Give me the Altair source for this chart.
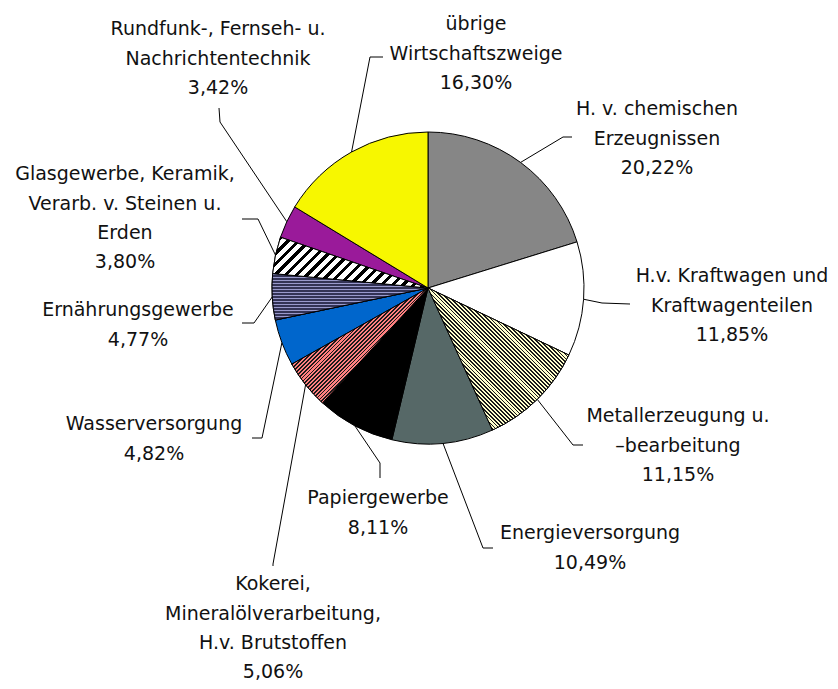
import math
import altair as alt
import pandas as pd

# ---------------- data ----------------
sectors = [
    "H. v. chemischen Erzeugnissen",
    "H.v. Kraftwagen und Kraftwagenteilen",
    "Metallerzeugung u. –bearbeitung",
    "Energieversorgung",
    "Papiergewerbe",
    "Kokerei, Mineralölverarbeitung, H.v. Brutstoffen",
    "Wasserversorgung",
    "Ernährungsgewerbe",
    "Glasgewerbe, Keramik, Verarb. v. Steinen u. Erden",
    "Rundfunk-, Fernseh- u. Nachrichtentechnik",
    "übrige Wirtschaftszweige",
]
label_lines = [
    "H. v. chemischen\nErzeugnissen",
    "H.v. Kraftwagen und\nKraftwagenteilen",
    "Metallerzeugung u.\n–bearbeitung",
    "Energieversorgung",
    "Papiergewerbe",
    "Kokerei,\nMineralölverarbeitung,\nH.v. Brutstoffen",
    "Wasserversorgung",
    "Ernährungsgewerbe",
    "Glasgewerbe, Keramik,\nVerarb. v. Steinen u.\nErden",
    "Rundfunk-, Fernseh- u.\nNachrichtentechnik",
    "übrige\nWirtschaftszweige",
]
shares = [20.22, 11.85, 11.15, 10.49, 8.11, 5.06, 4.82, 4.77, 3.80, 3.42, 16.30]

# ---------------- style / layout ----------------
fills = ["#868686", "#ffffff", "#b2b28e", "#566867", "#000000", "#c0625c",
         "#0066cc", "#7a7aa6", "#a2a2a2", "#9a1a9a", "#f7f700"]
# striped fills: sector index -> (normal angle deg, period px, [(colour, fraction), ...])
stripes = {
    2: (-45, 2.75, [("#ffffcc", 0.55), ("#1a1a1a", 0.45)]),
    5: (45, 2.75, [("#ff8080", 0.55), ("#1a1a1a", 0.45)]),
    7: (90, 3.0, [("#9999cc", 0.62), ("#333355", 0.38)]),
    8: (45, 7.5, [("#ffffff", 0.58), ("#000000", 0.42)]),
}
CX, CY, R = 420, 280, 156          # pie centre / radius (chart coords)
MARGIN = 8
FONT_SIZE = 19
LINE_H = 29.3
CAP_MID = 7.6                      # offset from text top to first line middle
# label anchor: centre x, first-line middle y (page coords)
label_pos = [(657, 108), (732, 275), (678, 415), (590, 532), (378, 497), (273, 583),
             (154, 423), (138, 309), (125, 173), (218, 28), (476, 23)]
# leader line elbow and end points (page coords)
leader_elbow = [(563, 137), (602, 303), (573, 445), (483, 548), (380, 463), (273, 564),
                (262, 438), (254, 323), (258, 219), (220, 122), (370, 57)]
leader_end = [(572, 137), (630, 304), (583, 445), (493, 548), (380, 478), (273, 566),
              (252, 438), (242, 323), (242, 219), (219, 108), (383, 57)]

total = sum(shares)
TWO_PI = 2 * math.pi


def pct(v):
    return f"{v:.2f}".replace(".", ",") + "%"


def stripe_gradient(a0, a1, n_deg, period, parts):
    """Linear gradient (object bounding box units) giving straight stripes on a wedge."""
    pts = [(0.0, 0.0), (R * math.sin(a0), -R * math.cos(a0)), (R * math.sin(a1), -R * math.cos(a1))]
    for k in range(5):
        ang = k * math.pi / 2
        if a0 < ang < a1:
            pts.append((R * math.sin(ang), -R * math.cos(ang)))
    xs = [p[0] for p in pts]
    ys = [p[1] for p in pts]
    W = max(xs) - min(xs)
    H = max(ys) - min(ys)
    nx, ny = math.cos(math.radians(n_deg)), math.sin(math.radians(n_deg))
    L = W * abs(nx) + H * abs(ny)
    k = L / (W * H * (nx * nx / (H * H) + ny * ny / (W * W)))
    dx, dy = k * nx / H, k * ny / W
    x1 = 0.0 if nx >= 0 else 1.0
    y1 = 0.0 if ny >= 0 else 1.0
    stops = []
    d = 0.0
    while d < L:
        for col, frac in parts:
            o0 = min(d / L, 1.0)
            d += period * frac
            o1 = min(d / L, 1.0)
            stops.append({"offset": o0, "color": col})
            stops.append({"offset": o1, "color": col})
    return {"gradient": "linear", "x1": x1, "y1": y1, "x2": x1 + dx, "y2": y1 + dy, "stops": stops}


pie_df = pd.DataFrame({"sector": sectors, "share": shares, "idx": range(len(sectors))})

txt_df = pd.DataFrame({
    "sector": sectors,
    "label": [l + "\n" + pct(v) for l, v in zip(label_lines, shares)],
    "tx": [p[0] - MARGIN for p in label_pos],
    "ty": [p[1] - MARGIN - CAP_MID for p in label_pos],
})

rows = []
angles = []
cum = 0.0
for i, (s, v) in enumerate(zip(sectors, shares)):
    a0 = cum / total * TWO_PI
    cum += v
    a1 = cum / total * TWO_PI
    angles.append((a0, a1))
    mid = (a0 + a1) / 2
    rows.append({"sector": s, "step": 0, "px": CX + R * math.sin(mid), "py": CY - R * math.cos(mid)})
    rows.append({"sector": s, "step": 1, "px": leader_elbow[i][0] - MARGIN, "py": leader_elbow[i][1] - MARGIN})
    rows.append({"sector": s, "step": 2, "px": leader_end[i][0] - MARGIN, "py": leader_end[i][1] - MARGIN})
line_df = pd.DataFrame(rows)

theta_scale = alt.Scale(domain=[0, total], range=[0, TWO_PI])


def wedge_base():
    return alt.Chart(pie_df).transform_window(
        end="sum(share)", sort=[alt.SortField("idx", order="ascending")], frame=[None, 0]
    ).transform_calculate(start="datum.end - datum.share")


pie = wedge_base().mark_arc(outerRadius=R, stroke="#000000", strokeWidth=1).encode(
    theta=alt.Theta("start:Q", scale=theta_scale),
    theta2="end:Q",
    color=alt.Color("sector:N", scale=alt.Scale(domain=sectors, range=fills), legend=None),
    x=alt.value(CX),
    y=alt.value(CY),
)

layers = [pie]
for i, (n_deg, period, parts) in stripes.items():
    a0, a1 = angles[i]
    grad = stripe_gradient(a0, a1, n_deg, period, parts)
    layers.append(
        wedge_base().transform_filter(alt.datum.idx == i)
        .mark_arc(outerRadius=R, stroke="#000000", strokeWidth=1, fill=grad)
        .encode(theta=alt.Theta("start:Q", scale=theta_scale), theta2="end:Q",
                x=alt.value(CX), y=alt.value(CY))
    )

leaders = alt.Chart(line_df).mark_line(color="#000000", strokeWidth=1).encode(
    x=alt.X("px:Q", scale=None, axis=None),
    y=alt.Y("py:Q", scale=None, axis=None),
    detail="sector:N",
    order="step:O",
)

labels = alt.Chart(txt_df).mark_text(
    align="center", baseline="top", lineBreak="\n", lineHeight=LINE_H,
    font="DejaVu Sans", fontSize=FONT_SIZE, color="#111111",
).encode(
    x=alt.X("tx:Q", scale=None, axis=None),
    y=alt.Y("ty:Q", scale=None, axis=None),
    text="label:N",
)

layers += [leaders, labels]

chart = alt.layer(*layers).properties(
    width=822, height=673,
    autosize=alt.AutoSizeParams(type="none"),
    padding=0,
).configure(background="#ffffff").configure_view(stroke=None)

chart.save("out.html", embed_options={"renderer": "svg", "actions": False})
